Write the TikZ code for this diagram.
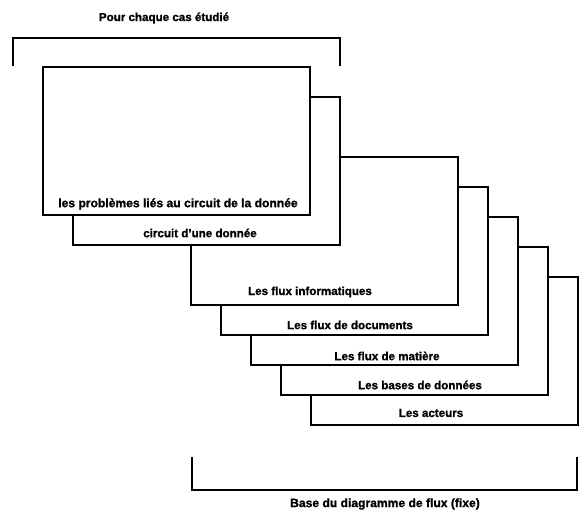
\documentclass[tikz,border=0pt]{standalone}
\usepackage{fontspec}
\setmainfont{Liberation Sans}[BoldFeatures={FakeBold=1.2}]
\begin{document}
\begin{tikzpicture}[x=1pt,y=-1pt,
  layer/.style={draw, line width=1.1pt, fill=white, rectangle, anchor=north west,
    inner sep=0pt, outer sep=0pt, minimum width=267pt, minimum height=148pt},
  lbl/.style={font=\bfseries\fontsize{11.6}{13}\selectfont, inner sep=0pt},
  widelbl/.style={lbl, font=\bfseries\fontsize{12.1}{13}\selectfont},
  bracket/.style={draw, line width=1.1pt, line join=miter}]
\useasboundingbox (0,0) rectangle (579,514);
% layers, back to front
\node[layer] (b7) at (311,277) {};
\node[layer] (b6) at (281,247) {};
\node[layer] (b5) at (251,217) {};
\node[layer] (b4) at (221,187) {};
\node[layer] (b3) at (191,157) {};
\node[layer] (b2) at (73,97) {};
\node[layer] (b1) at (43,67) {};
% labels
\node[widelbl] (t1) at ([xshift=1.5pt,yshift=11pt]b1.south) {les problèmes liés au circuit de la donnée};
\node[lbl] (t2) at ([xshift=-6.5pt,yshift=12pt]b2.south) {circuit d'une donnée};
\node[lbl] (t3) at ([xshift=-14.5pt,yshift=13pt]b3.south) {Les flux informatiques};
\node[lbl] (t4) at ([xshift=-4.5pt,yshift=10pt]b4.south) {Les flux de documents};
\node[lbl] (t5) at ([xshift=2.5pt,yshift=9pt]b5.south) {Les flux de matière};
\node[lbl] (t6) at ([xshift=5.5pt,yshift=10pt]b6.south) {Les bases de données};
\node[lbl] (t7) at ([xshift=-13.5pt,yshift=12pt]b7.south) {Les acteurs};
% top bracket
\coordinate (tl) at (13,66);
\coordinate (tr) at (340,66);
\draw[bracket] (tl) -- (13,38) -- (340,38) -- (tr);
\node[lbl] (ttop) at (164,18) {Pour chaque cas étudié};
% bottom bracket
\coordinate (bl) at (192,457);
\coordinate (br) at (577,457);
\draw[bracket] (bl) -- (192,490) -- (577,490) -- (br);
\node[widelbl] (tbot) at (385,504) {Base du diagramme de flux (fixe)};
\end{tikzpicture}
\end{document}
